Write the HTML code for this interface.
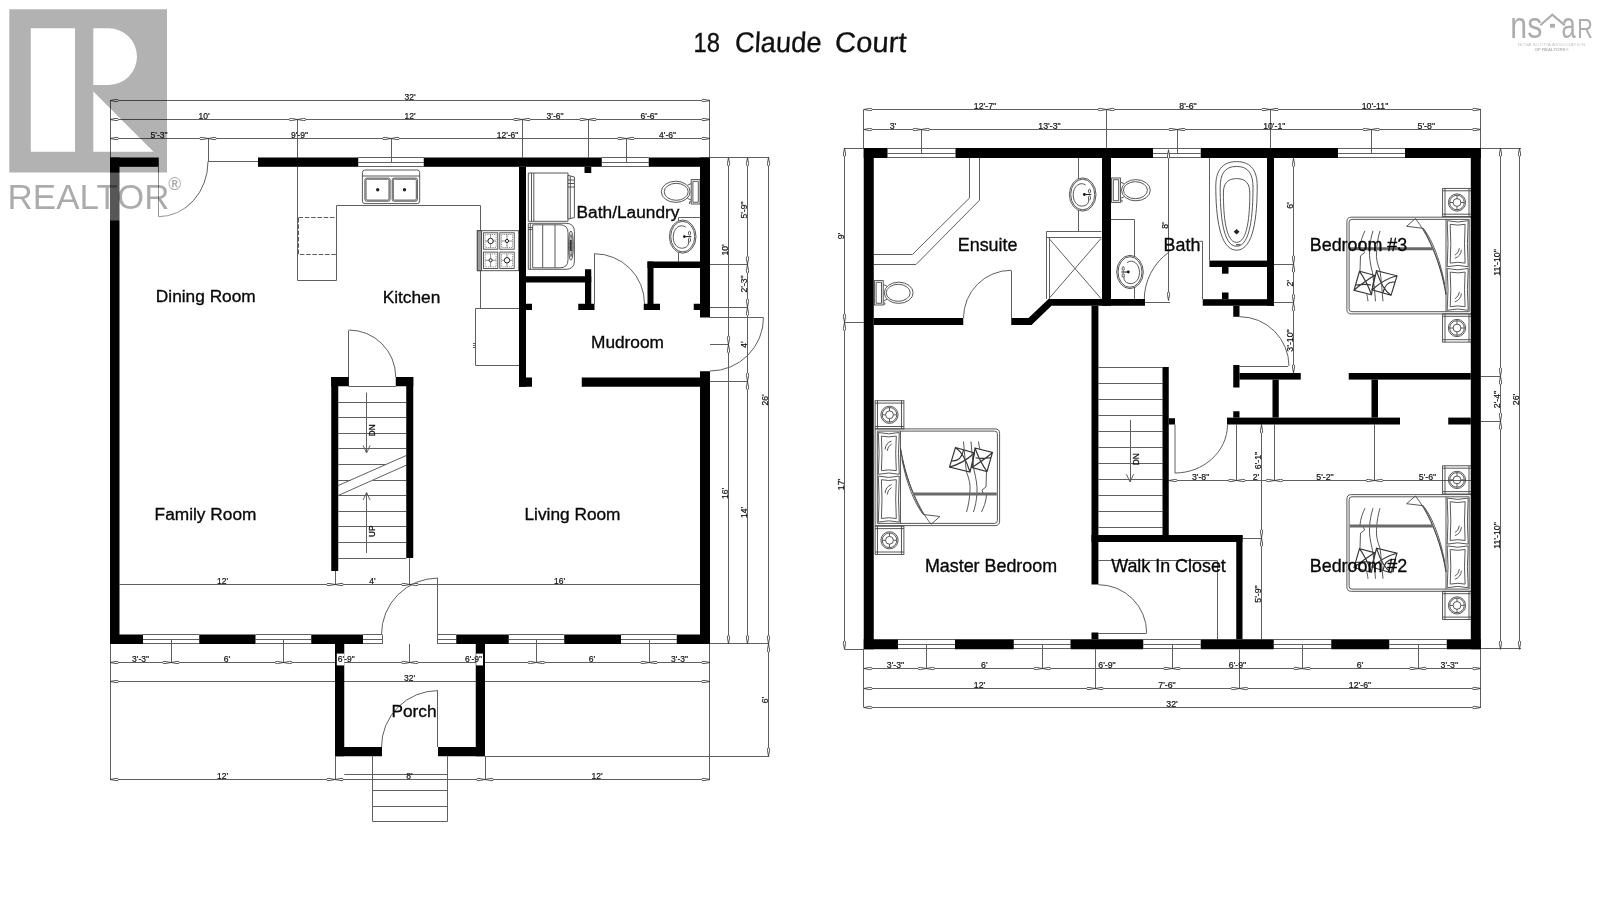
<!DOCTYPE html>
<html><head><meta charset="utf-8"><title>18 Claude Court</title>
<style>
html,body{margin:0;padding:0;background:#fff;}
body{width:1600px;height:900px;overflow:hidden;font-family:"Liberation Sans",sans-serif;}
svg{display:block;opacity:0.999;will-change:transform;}
svg text{font-family:"Liberation Sans",sans-serif;}
</style></head><body>
<svg width="1600" height="900" viewBox="0 0 1600 900">
<defs>
<path id="lf" d="M0 0 L6 -1.1 Q8.6 -1.2 8.6 0 Q8.6 1.2 6 1.1 Z"/>
<g id="bed" fill="none" stroke="#464646" stroke-width="0.9"><rect x="0" y="0" width="28.8" height="28.2"/><path d="M2.4 0 V28.2 M26.4 0 V28.2 M0 2.4 H28.8 M0 25.8 H28.8"/><circle cx="14.4" cy="14.1" r="8.6"/><circle cx="14.4" cy="14.1" r="7.3"/><circle cx="14.4" cy="14.1" r="3.9"/><path d="M14.4 10.2 v-3.4 M14.4 18 v3.4 M10.5 14.1 h-3.4 M18.3 14.1 h3.4"/><rect x="0" y="125.5" width="28.8" height="28.2"/><path d="M2.4 125.5 V153.7 M26.4 125.5 V153.7 M0 127.9 H28.8 M0 151.3 H28.8"/><circle cx="14.4" cy="139.6" r="8.6"/><circle cx="14.4" cy="139.6" r="7.3"/><circle cx="14.4" cy="139.6" r="3.9"/><path d="M14.4 135.7 v-3.4 M14.4 143.5 v3.4 M10.5 139.6 h-3.4 M18.3 139.6 h3.4"/><path d="M0 28.2 H120 Q124.5 28.2 124.5 32.7 V120.4 Q124.5 124.9 120 124.9 H0 Z"/><path d="M2.2 30.4 H119.5 Q122.3 30.4 122.3 33.2 V119.9 Q122.3 122.7 119.5 122.7 H2.2 Z"/><path d="M25.4 30.4 V122.7"/><path d="M3.2 31.8 Q13.5 34.4 24.2 31.8 Q22.6 52.7 24.2 73.6 Q13.5 71 3.2 73.6 Q4.8 52.7 3.2 31.8 Z"/><path d="M6.3 35.4 Q13.5 37 21.2 35.4 Q20 52.7 21.2 70 Q13.5 68.4 6.3 70 Q7.5 52.7 6.3 35.4 Z"/><path d="M10 48.8 Q10.5 42.3 16.5 40.3 M12 50.3 Q12.6 45.3 16.5 43.3"/><path d="M3.2 75.4 Q13.5 78 24.2 75.4 Q22.6 98.4 24.2 121.4 Q13.5 118.8 3.2 121.4 Q4.8 98.4 3.2 75.4 Z"/><path d="M6.3 79 Q13.5 80.6 21.2 79 Q20 98.4 21.2 117.8 Q13.5 116.2 6.3 117.8 Q7.5 98.4 6.3 79 Z"/><path d="M10 92.4 Q10.5 85.9 16.5 83.9 M12 93.9 Q12.6 88.9 16.5 86.9"/><path d="M25.4 47.6 C30 80 45 110 56 123.5 L64.8 115.8 L48.3 113.8 C40 100 30 75 25.4 47.6"/><path d="M26.8 58 C32 86 41 105 48.3 113.8"/><path stroke="#333" stroke-width="1.15" d="M80.4 46.8 L99.4 52.3 L94.9 71.3 L74.4 66.3 Z M80.4 46.8 C88 52 92 62 94.9 71.3 M74.4 66.3 C84 64 93 58 99.4 52.3 M76.6 60 C84 61 87 56 88.5 49.2"/><path stroke="#333" stroke-width="1.15" d="M99.9 47.3 L117.4 51.8 L111.9 70.8 L96.9 66.8 Z M99.9 47.3 C103 56 107 64 111.9 70.8 M96.9 66.8 C104 62 112 57 117.4 51.8 M100.5 57 C105 58.5 112 57.5 115.8 57"/><path d="M88.4 40.8 C89.5 52 90 62 91.4 71.3 C94 78 95.5 84 94.9 90 C94.5 99 93 106 91.4 111.3 M95.9 40.8 C96.5 50 97.5 60 98.9 69.3 C101 78 102.3 85 101.9 92 C101.5 100 100 106 98.4 111.3 M103.4 40.8 C103.8 44 104.3 47 105 49 M111.4 71.3 L110.9 86.3 L106.9 89.3 L107.9 92.3 L111.4 94.3 C111 101 108.5 107 106.4 111.3"/><path d="M38.5 93.4 H121.6" stroke-width="3" stroke="#6a6a6a"/></g><g id="wc" fill="#fff" stroke="#464646" stroke-width="0.9"><path d="M8.8 -8.2 L12.6 -6.6 M8.8 8.2 L12.6 6.6"/><ellipse cx="24.3" cy="0" rx="14.4" ry="10.6"/><ellipse cx="23.8" cy="0" rx="12" ry="8.5"/><rect x="0" y="-12.2" width="8.8" height="24.4"/><path d="M1.7 -10.5 H7.1 V10.5 H1.7 Z M8.8 10 h1.6 v2.2"/></g><g id="sk" fill="#fff" stroke="#464646" stroke-width="0.9"><ellipse cx="0" cy="0" rx="13.3" ry="16.6"/><ellipse cx="0" cy="0" rx="12" ry="15.3"/><path fill="none" d="M3 -9.5 C-3 -13.5 -9.5 -8 -9.5 0.5 C-9.5 9 -3 14 3.5 10.5 C6 9 6.3 6 5.8 3.5"/><circle cx="1.7" cy="0" r="1.4" fill="#111" stroke="none"/><path d="M3 0 H8.6" stroke="#222" stroke-width="1.1"/><ellipse cx="6.8" cy="-3.4" rx="1.1" ry="1.9"/><ellipse cx="6.8" cy="3.4" rx="1.1" ry="1.9"/></g>
</defs>
<rect width="1600" height="900" fill="#fff"/>
<path fill="none" stroke="#606060" stroke-width="1" d="M358.25 157.5 L423.75 157.5 M358.25 162.5 L423.75 162.5 M358.25 166.5 L423.75 166.5 M601.75 157.5 L648.75 157.5 M601.75 162.5 L648.75 162.5 M601.75 166.5 L648.75 166.5 M158.5 166.8 L158.5 216.5 M158.5 216.7 A49.5 55.2 0 0 0 208 161.5 M208 161.5 L258 161.5 M143 634.5 L199.25 634.5 M143 639.5 L199.25 639.5 M143 643.5 L199.25 643.5 M255.5 634.5 L311.25 634.5 M255.5 639.5 L311.25 639.5 M255.5 643.5 L311.25 643.5 M363 634.5 L382 634.5 M363 639.5 L382 639.5 M363 643.5 L382 643.5 M438 634.5 L456.25 634.5 M438 639.5 L456.25 639.5 M438 643.5 L456.25 643.5 M508.75 634.5 L564.25 634.5 M508.75 639.5 L564.25 639.5 M508.75 643.5 L564.25 643.5 M621 634.5 L676.75 634.5 M621 639.5 L676.75 639.5 M621 643.5 L676.75 643.5 M382.5 634.5 L382.5 644 M437.5 578 L437.5 644 M437.9 578.1 A56.4 56.4 0 0 0 381.5 634.5 M348.75 386.5 L395.75 386.5 M348.5 330.5 L348.5 386.25 M348.75 330 A47 47 0 0 1 395.75 377 M338.25 402.5 L406.25 402.5 M338.25 417.5 L406.25 417.5 M338.25 433.5 L406.25 433.5 M338.25 448.5 L406.25 448.5 M338.25 464.5 L386.08 464.5 M338.25 480.5 L350.72 480.5 M373.04 480.5 L406.25 480.5 M338.25 495.5 L406.25 495.5 M338.25 511.5 L406.25 511.5 M338.25 526.5 L406.25 526.5 M338.25 542.5 L406.25 542.5 M338.25 558.5 L406.25 558.5 M338.25 485.5 L406.25 455.5 M338.25 495.5 L406.25 465.2 M366.5 392.5 L366.5 453 M363.1 445.4 L366.6 453 L370.1 445.4 M366.5 492.5 L366.5 553 M363.1 500.1 L366.6 492.5 L370.1 500.1 M119.5 584.5 L700 584.5 M335.5 571 L335.5 584.5 M409.5 558 L409.5 584.5 M297.5 166.8 L297.5 280.5 L336.5 280.5 L336.5 205.5 L480.5 205.5 L480.5 308 M519 308.5 L475.5 308.5 L475.5 365.5 L519 365.5 M473 343.5 L475.75 343.5 M473 345.5 L475.75 345.5 M473 347.5 L475.75 347.5 M594.5 253.5 L594.5 303.75 M594.5 253.75 A50 50 0 0 1 644.5 303.75 M678.5 261.5 L678.5 217.5 L700 217.5 M710 317.5 L763 317.5 M763.5 317.5 A53.5 53.5 0 0 1 710 371 M437.5 690.5 L437.5 747 M437.9 690.6 A56.4 56.4 0 0 0 381.5 747 M372.5 756.25 L372.5 821.5 L447.5 821.5 L447.5 756.25 M344.25 774.5 L447.5 774.5 M372 790.5 L447.5 790.5 M372 806.5 L447.5 806.5 M110.5 100.5 L110.5 157.5 M709.5 100.5 L709.5 157.5 M110 100.5 L710 100.5 M110 119.5 L710 119.5 M297.5 119.5 L297.5 158.5 M522.5 119.5 L522.5 157.5 M588.5 119.5 L588.5 157.5 M110 138.5 L710 138.5 M208.5 138.25 L208.5 161.5 M391.5 138.25 L391.5 162 M626.5 138.25 L626.5 162 M710 157.5 L769.2 157.5 M710 643.5 L769.2 643.5 M485 756.5 L769.2 756.5 M710 264.5 L747.2 264.5 M710 307.5 L747.2 307.5 M710 344.5 L728.4 344.5 M710 381.5 L747.2 381.5 M728.5 157.5 L728.5 643.8 M747.5 157.5 L747.5 643.8 M768.5 157.5 L768.5 756.25 M110.5 644 L110.5 779.5 M709.5 644 L709.5 779.5 M110 662.5 L710 662.5 M171.5 639.2 L171.5 662.5 M283.5 639.2 L283.5 662.5 M409.5 644 L409.5 662.5 M536.5 639.2 L536.5 662.5 M649.5 639.2 L649.5 662.5 M110 681.5 L710 681.5 M110 779.5 L710 779.5 M335.5 756.25 L335.5 779.5 M485.5 756.25 L485.5 779.5 M887.5 148.5 L955.5 148.5 M887.5 153.5 L955.5 153.5 M887.5 157.5 L955.5 157.5 M1153 148.5 L1200.75 148.5 M1153 153.5 L1200.75 153.5 M1153 157.5 L1200.75 157.5 M1338 148.5 L1405 148.5 M1338 153.5 L1405 153.5 M1338 157.5 L1405 157.5 M898 639.5 L955 639.5 M898 644.5 L955 644.5 M898 648.5 L955 648.5 M1013.75 639.5 L1070.5 639.5 M1013.75 644.5 L1070.5 644.5 M1013.75 648.5 L1070.5 648.5 M1143.25 639.5 L1200.75 639.5 M1143.25 644.5 L1200.75 644.5 M1143.25 648.5 L1200.75 648.5 M1273.75 639.5 L1331.25 639.5 M1273.75 644.5 L1331.25 644.5 M1273.75 648.5 L1331.25 648.5 M1389.25 639.5 L1446.75 639.5 M1389.25 644.5 L1446.75 644.5 M1389.25 648.5 L1446.75 648.5 M1011.5 270.5 L1011.5 318 M1011.25 270.25 A47.75 47.75 0 0 0 963.5 318 M1098.4 633.5 L1146.5 633.5 M1146.7 633 A48.3 48.3 0 0 0 1098.4 584.7 M1202.5 241.3 L1202.5 299.2 M1144.25 300 A58.75 58.75 0 0 1 1168.59 252.38 M1199.41 241.36 A58.75 58.75 0 0 1 1202.59 241.25 M1145 302.5 L1170 302.5 M1239.5 366.5 L1288 366.5 M1289 366.2 A49.5 49.5 0 0 0 1239.5 316.7 M1175 424.5 L1175 473 M1175 473 C1203 473 1227.5 452 1227.5 424.5 M1098.4 367.5 L1162.5 367.5 M1098.4 383.5 L1162.5 383.5 M1098.4 399.5 L1162.5 399.5 M1098.4 415.5 L1162.5 415.5 M1098.4 431.5 L1162.5 431.5 M1098.4 447.5 L1162.5 447.5 M1098.4 463.5 L1162.5 463.5 M1098.4 479.5 L1162.5 479.5 M1098.4 495.5 L1162.5 495.5 M1098.4 511.5 L1162.5 511.5 M1098.4 527.5 L1162.5 527.5 M1130.5 420 L1130.5 482 M1126.4 474.2 L1130 482 L1133.6 474.2 M969.5 158 L969.5 198 L912.4 254.5 L873.75 254.5 M979.5 158 L979.5 200.2 L916 264.5 L873.75 264.5 M1078.5 158 L1078.5 231.6 M1046.4 231.5 L1101.5 231.5 M1046.4 237.5 L1101.5 237.5 M1046.5 231.6 L1046.5 298.9 M1049.5 237.8 L1049.5 298.9 M1049 238.5 L1101 298.5 M1101 238.5 L1049 298.5 M1111 219.5 L1134.5 219.5 L1134.5 298.9 M1209.5 158 L1209.5 260.6 M1168.5 149.5 L1168.5 300 M1098.4 560.5 L1217.5 560.5 L1217.5 639.25 M1293.5 158 L1293.5 373 M1274 264.5 L1293.75 264.5 M1274 302.5 L1293.75 302.5 M1168.75 480.5 L1471 480.5 M1236.5 424.5 L1236.5 480.6 M1274.5 424.5 L1274.5 480.6 M1374.5 424.5 L1374.5 480.6 M1261.5 424.5 L1261.5 639.25 M1242.5 538.5 L1261.25 538.5 M863.5 109.7 L863.5 148 M1480.5 109.7 L1480.5 148 M863.75 109.5 L1480.8 109.5 M1106.5 109.7 L1106.5 148 M1270.5 109.7 L1270.5 148 M863.75 129.5 L1480.8 129.5 M921.5 129.3 L921.5 153 M1177.5 129.3 L1177.5 153 M1371.5 129.3 L1371.5 153 M844.6 148.5 L863.75 148.5 M844.6 322.5 L863.75 322.5 M844.6 649.5 L863.75 649.5 M844.5 148 L844.5 649.25 M1480.8 148.5 L1521 148.5 M1480.8 648.5 L1521 648.5 M1480.8 376.5 L1500 376.5 M1480.8 421.5 L1500 421.5 M1500.5 148 L1500.5 649.25 M1519.5 148 L1519.5 649.25 M863.5 649.25 L863.5 707 M1480.5 649.25 L1480.5 707 M863.75 668.5 L1480.8 668.5 M926.5 644.25 L926.5 668.3 M1042.5 644.25 L1042.5 668.3 M1172.5 644.25 L1172.5 668.3 M1302.5 644.25 L1302.5 668.3 M1418.5 644.25 L1418.5 668.3 M863.75 688.5 L1480.8 688.5 M1095.5 649.25 L1095.5 688 M1239.5 649.25 L1239.5 688 M863.75 707.5 L1480.8 707.5"/>
<use href="#bed" transform="translate(875.1 400.7)"/><use href="#bed" transform="translate(1471.4 342.1) rotate(180)"/><use href="#bed" transform="translate(1471.4 619.5) rotate(180)"/><use href="#wc" transform="translate(700 191.8) scale(-1 1)"/><use href="#wc" transform="translate(1111.6 190.2)"/><use href="#wc" transform="translate(874.4 292.8)"/><use href="#sk" transform="translate(682.7 236.6)"/><use href="#sk" transform="translate(1082.7 194.5)"/><use href="#sk" transform="translate(1130 272) scale(-1 1)"/><g fill="#fff" stroke="#464646" stroke-width="0.9"><rect x="362.4" y="170" width="57.3" height="33.6" rx="2.5"/><path d="M362.4 176 H419.7"/><rect x="364.9" y="178.1" width="25.2" height="23.1" rx="1.8"/><rect x="366" y="179.2" width="23" height="20.9" rx="1.2"/><rect x="392.2" y="178.1" width="25.2" height="23.1" rx="1.8"/><rect x="393.3" y="179.2" width="23" height="20.9" rx="1.2"/><circle cx="377.7" cy="189.7" r="1.7" fill="#222" stroke="none"/><circle cx="404.5" cy="189.7" r="1.7" fill="#222" stroke="none"/></g><rect x="298.5" y="217.5" width="38" height="37" fill="none" stroke="#5f5f5f" stroke-width="1" stroke-dasharray="4.6 1.7"/><g fill="#fff" stroke="#444" stroke-width="0.9"><rect x="477.3" y="230.7" width="41.4" height="40"/><rect x="477.3" y="230.7" width="4.2" height="40" fill="#9a9a9a"/><rect x="483.4" y="232.8" width="14.4" height="16.4"/><rect x="485.1" y="234.5" width="11" height="13" stroke-width="0.6" stroke-dasharray="1.2 1"/><path d="M485.1 241 H496.1 M490.6 234.5 V247.5" stroke-width="0.6"/><circle cx="490.6" cy="241" r="2.7" stroke="#222" stroke-width="1"/><rect x="499.8" y="232.8" width="14.4" height="16.4"/><rect x="501.5" y="234.5" width="11" height="13" stroke-width="0.6" stroke-dasharray="1.2 1"/><path d="M501.5 241 H512.5 M507 234.5 V247.5" stroke-width="0.6"/><circle cx="507" cy="241" r="1.6" stroke="#222" stroke-width="1"/><rect x="483.4" y="252.1" width="14.4" height="16.4"/><rect x="485.1" y="253.8" width="11" height="13" stroke-width="0.6" stroke-dasharray="1.2 1"/><path d="M485.1 260.3 H496.1 M490.6 253.8 V266.8" stroke-width="0.6"/><circle cx="490.6" cy="260.3" r="1.6" stroke="#222" stroke-width="1"/><rect x="499.8" y="252.1" width="14.4" height="16.4"/><rect x="501.5" y="253.8" width="11" height="13" stroke-width="0.6" stroke-dasharray="1.2 1"/><path d="M501.5 260.3 H512.5 M507 253.8 V266.8" stroke-width="0.6"/><circle cx="507" cy="260.3" r="2.7" stroke="#222" stroke-width="1"/></g><g fill="#fff" stroke="#464646" stroke-width="0.9"><path d="M528.3 173 H568 V221.3 H528.3 Z M533.8 173 V221.3 M531.5 173 V221.3"/><path d="M568 175.3 L574.4 177 V217.6 L568 219 Z M570.3 176 V218.3 M568 187 H574.4 M568 180 H574.4 M568 183.5 H574.4"/><path d="M528.3 223.3 H566 Q574.4 223.3 574.4 231.7 V260.9 Q574.4 269.3 566 269.3 H528.3 Z"/><path d="M532.7 224.8 H560 Q568 224.8 568 232.8 V259.8 Q568 267.8 560 267.8 H532.7 Z"/><path d="M530.3 223.3 V269.3 M542.7 224.8 V267.8 M555 224.8 V267.8 M528.3 227.5 H532.7 M528.3 229.5 H532.7"/><ellipse cx="570.9" cy="245.6" rx="2.4" ry="14.6"/><ellipse cx="570.9" cy="245.6" rx="1.3" ry="11" /><path d="M570.9 240 V251" stroke="#222" stroke-width="1.6"/></g><g fill="none" stroke="#464646" stroke-width="0.9"><path d="M1236.6 161.6 C1252 161.6 1257.2 172 1257.2 186 C1257.2 215 1254 250.2 1236.6 250.2 C1219.2 250.2 1215.8 215 1215.8 186 C1215.8 172 1221.2 161.6 1236.6 161.6 Z"/><path d="M1236.6 166.4 C1249 166.4 1253 175 1253 187 C1253 214 1250.5 246.3 1236.6 246.3 C1222.7 246.3 1220.2 214 1220.2 187 C1220.2 175 1224.2 166.4 1236.6 166.4 Z"/><path d="M1236.6 178.6 C1246.5 178.6 1249.8 184.5 1249.8 193 C1249.8 216 1247.5 242.4 1236.6 242.4 C1225.7 242.4 1223.4 216 1223.4 193 C1223.4 184.5 1226.7 178.6 1236.6 178.6 Z"/><path d="M1236.6 229 L1239.5 231.8 L1236.6 234.6 L1233.7 231.8 Z" fill="#222" stroke="none"/><path d="M1236 244.8 H1240.5" stroke-width="1.2"/></g>
<g fill="#fff" stroke="#3c3c3c" stroke-width="0.85" stroke-linejoin="round"><use href="#lf" transform="translate(335 584.5) rotate(0)"/><use href="#lf" transform="translate(335 584.5) rotate(180)"/><use href="#lf" transform="translate(409.9 584.5) rotate(0)"/><use href="#lf" transform="translate(409.9 584.5) rotate(180)"/><use href="#lf" transform="translate(110 100.5) rotate(0)"/><use href="#lf" transform="translate(710 100.5) rotate(180)"/><use href="#lf" transform="translate(110 119.5) rotate(0)"/><use href="#lf" transform="translate(297.5 119.5) rotate(0)"/><use href="#lf" transform="translate(297.5 119.5) rotate(180)"/><use href="#lf" transform="translate(522 119.5) rotate(0)"/><use href="#lf" transform="translate(522 119.5) rotate(180)"/><use href="#lf" transform="translate(588 119.5) rotate(0)"/><use href="#lf" transform="translate(588 119.5) rotate(180)"/><use href="#lf" transform="translate(710 119.5) rotate(180)"/><use href="#lf" transform="translate(110 138.5) rotate(0)"/><use href="#lf" transform="translate(208 138.5) rotate(0)"/><use href="#lf" transform="translate(208 138.5) rotate(180)"/><use href="#lf" transform="translate(391 138.5) rotate(0)"/><use href="#lf" transform="translate(391 138.5) rotate(180)"/><use href="#lf" transform="translate(626 138.5) rotate(0)"/><use href="#lf" transform="translate(626 138.5) rotate(180)"/><use href="#lf" transform="translate(710 138.5) rotate(180)"/><use href="#lf" transform="translate(728.5 157.5) rotate(90)"/><use href="#lf" transform="translate(728.5 344.5) rotate(90)"/><use href="#lf" transform="translate(728.5 344.5) rotate(270)"/><use href="#lf" transform="translate(728.5 643.8) rotate(270)"/><use href="#lf" transform="translate(747.5 157.5) rotate(90)"/><use href="#lf" transform="translate(747.5 264.7) rotate(90)"/><use href="#lf" transform="translate(747.5 264.7) rotate(270)"/><use href="#lf" transform="translate(747.5 307.3) rotate(90)"/><use href="#lf" transform="translate(747.5 307.3) rotate(270)"/><use href="#lf" transform="translate(747.5 381.3) rotate(90)"/><use href="#lf" transform="translate(747.5 381.3) rotate(270)"/><use href="#lf" transform="translate(747.5 643.8) rotate(270)"/><use href="#lf" transform="translate(768.5 157.5) rotate(90)"/><use href="#lf" transform="translate(768.5 643.8) rotate(90)"/><use href="#lf" transform="translate(768.5 643.8) rotate(270)"/><use href="#lf" transform="translate(768.5 756.25) rotate(270)"/><use href="#lf" transform="translate(110 662.5) rotate(0)"/><use href="#lf" transform="translate(710 662.5) rotate(180)"/><use href="#lf" transform="translate(171 662.5) rotate(0)"/><use href="#lf" transform="translate(171 662.5) rotate(180)"/><use href="#lf" transform="translate(283.6 662.5) rotate(0)"/><use href="#lf" transform="translate(283.6 662.5) rotate(180)"/><use href="#lf" transform="translate(409.8 662.5) rotate(0)"/><use href="#lf" transform="translate(409.8 662.5) rotate(180)"/><use href="#lf" transform="translate(536.4 662.5) rotate(0)"/><use href="#lf" transform="translate(536.4 662.5) rotate(180)"/><use href="#lf" transform="translate(649 662.5) rotate(0)"/><use href="#lf" transform="translate(649 662.5) rotate(180)"/><use href="#lf" transform="translate(110 681.5) rotate(0)"/><use href="#lf" transform="translate(710 681.5) rotate(180)"/><use href="#lf" transform="translate(110 779.5) rotate(0)"/><use href="#lf" transform="translate(335 779.5) rotate(0)"/><use href="#lf" transform="translate(335 779.5) rotate(180)"/><use href="#lf" transform="translate(485 779.5) rotate(0)"/><use href="#lf" transform="translate(485 779.5) rotate(180)"/><use href="#lf" transform="translate(710 779.5) rotate(180)"/><use href="#lf" transform="translate(1168.5 150) rotate(90)"/><use href="#lf" transform="translate(1168.5 300.5) rotate(270)"/><use href="#lf" transform="translate(1293.5 158.3) rotate(90)"/><use href="#lf" transform="translate(1293.5 264) rotate(90)"/><use href="#lf" transform="translate(1293.5 264) rotate(270)"/><use href="#lf" transform="translate(1293.5 302.6) rotate(90)"/><use href="#lf" transform="translate(1293.5 302.6) rotate(270)"/><use href="#lf" transform="translate(1293.5 373) rotate(270)"/><use href="#lf" transform="translate(1168.75 480.5) rotate(0)"/><use href="#lf" transform="translate(1236.75 480.5) rotate(0)"/><use href="#lf" transform="translate(1236.75 480.5) rotate(180)"/><use href="#lf" transform="translate(1274.5 480.5) rotate(0)"/><use href="#lf" transform="translate(1274.5 480.5) rotate(180)"/><use href="#lf" transform="translate(1374.5 480.5) rotate(0)"/><use href="#lf" transform="translate(1374.5 480.5) rotate(180)"/><use href="#lf" transform="translate(1261.5 424.8) rotate(90)"/><use href="#lf" transform="translate(1261.5 538) rotate(90)"/><use href="#lf" transform="translate(1261.5 538) rotate(270)"/><use href="#lf" transform="translate(863.75 109.5) rotate(0)"/><use href="#lf" transform="translate(1106.25 109.5) rotate(0)"/><use href="#lf" transform="translate(1106.25 109.5) rotate(180)"/><use href="#lf" transform="translate(1270 109.5) rotate(0)"/><use href="#lf" transform="translate(1270 109.5) rotate(180)"/><use href="#lf" transform="translate(1480.8 109.5) rotate(180)"/><use href="#lf" transform="translate(863.75 129.5) rotate(0)"/><use href="#lf" transform="translate(921.25 129.5) rotate(0)"/><use href="#lf" transform="translate(921.25 129.5) rotate(180)"/><use href="#lf" transform="translate(1177 129.5) rotate(0)"/><use href="#lf" transform="translate(1177 129.5) rotate(180)"/><use href="#lf" transform="translate(1371.25 129.5) rotate(0)"/><use href="#lf" transform="translate(1371.25 129.5) rotate(180)"/><use href="#lf" transform="translate(1480.8 129.5) rotate(180)"/><use href="#lf" transform="translate(844.5 148) rotate(90)"/><use href="#lf" transform="translate(844.5 322.3) rotate(90)"/><use href="#lf" transform="translate(844.5 322.3) rotate(270)"/><use href="#lf" transform="translate(844.5 649.25) rotate(270)"/><use href="#lf" transform="translate(1500.5 148) rotate(90)"/><use href="#lf" transform="translate(1500.5 376.2) rotate(90)"/><use href="#lf" transform="translate(1500.5 376.2) rotate(270)"/><use href="#lf" transform="translate(1500.5 421.2) rotate(90)"/><use href="#lf" transform="translate(1500.5 421.2) rotate(270)"/><use href="#lf" transform="translate(1500.5 649.25) rotate(270)"/><use href="#lf" transform="translate(1519.5 148) rotate(90)"/><use href="#lf" transform="translate(1519.5 649.25) rotate(270)"/><use href="#lf" transform="translate(863.75 668.5) rotate(0)"/><use href="#lf" transform="translate(1480.8 668.5) rotate(180)"/><use href="#lf" transform="translate(926.3 668.5) rotate(0)"/><use href="#lf" transform="translate(926.3 668.5) rotate(180)"/><use href="#lf" transform="translate(1042.3 668.5) rotate(0)"/><use href="#lf" transform="translate(1042.3 668.5) rotate(180)"/><use href="#lf" transform="translate(1172 668.5) rotate(0)"/><use href="#lf" transform="translate(1172 668.5) rotate(180)"/><use href="#lf" transform="translate(1302 668.5) rotate(0)"/><use href="#lf" transform="translate(1302 668.5) rotate(180)"/><use href="#lf" transform="translate(1418 668.5) rotate(0)"/><use href="#lf" transform="translate(1418 668.5) rotate(180)"/><use href="#lf" transform="translate(863.75 688.5) rotate(0)"/><use href="#lf" transform="translate(1095 688.5) rotate(0)"/><use href="#lf" transform="translate(1095 688.5) rotate(180)"/><use href="#lf" transform="translate(1239.5 688.5) rotate(0)"/><use href="#lf" transform="translate(1239.5 688.5) rotate(180)"/><use href="#lf" transform="translate(1480.8 688.5) rotate(180)"/><use href="#lf" transform="translate(863.75 707.5) rotate(0)"/><use href="#lf" transform="translate(1480.8 707.5) rotate(180)"/></g>
<g fill="#000">
<rect x="110" y="157.5" width="9.5" height="486.5"/>
<rect x="700" y="157.5" width="10" height="160"/>
<rect x="700" y="371.25" width="10" height="272.75"/>
<rect x="110" y="157.5" width="48.75" height="9.3"/>
<rect x="258" y="157.5" width="100.25" height="9.3"/>
<rect x="423.75" y="157.5" width="178" height="9.3"/>
<rect x="648.75" y="157.5" width="61.25" height="9.3"/>
<rect x="110" y="634.5" width="33" height="9.5"/>
<rect x="199.25" y="634.5" width="56.25" height="9.5"/>
<rect x="311.25" y="634.5" width="51.75" height="9.5"/>
<rect x="456.25" y="634.5" width="52.5" height="9.5"/>
<rect x="564.25" y="634.5" width="56.75" height="9.5"/>
<rect x="676.75" y="634.5" width="33.25" height="9.5"/>
<rect x="331.25" y="377" width="7" height="194"/>
<rect x="406.25" y="377" width="7" height="181"/>
<rect x="331.25" y="377" width="17.5" height="9.25"/>
<rect x="395.75" y="377" width="17.5" height="9.25"/>
<rect x="519" y="166.8" width="7" height="219.95"/>
<rect x="519" y="377.5" width="13" height="9.25"/>
<rect x="584.5" y="166.8" width="6.75" height="6.2"/>
<rect x="526" y="276.25" width="65.25" height="6.25"/>
<rect x="585" y="269.25" width="6.25" height="40.75"/>
<rect x="578.25" y="303.75" width="16.25" height="6.25"/>
<rect x="526" y="303.75" width="6" height="6.25"/>
<rect x="647.5" y="261.5" width="52.5" height="6.5"/>
<rect x="647.5" y="261.5" width="6" height="48.5"/>
<rect x="643.75" y="303.75" width="16.25" height="6.25"/>
<rect x="693.75" y="303.75" width="6.25" height="6.25"/>
<rect x="581.75" y="377.5" width="118.25" height="9.25"/>
<rect x="335" y="644" width="9.25" height="112.25"/>
<rect x="335" y="747" width="47" height="9.25"/>
<rect x="438" y="747" width="47" height="9.25"/>
<rect x="475.75" y="644" width="9.25" height="112.25"/>
<rect x="863.75" y="148" width="10" height="501.25"/>
<rect x="1470.8" y="148" width="10" height="501.25"/>
<rect x="863.75" y="148" width="23.75" height="10"/>
<rect x="955.5" y="148" width="197.5" height="10"/>
<rect x="1200.75" y="148" width="137.25" height="10"/>
<rect x="1405" y="148" width="75.8" height="10"/>
<rect x="863.75" y="639.25" width="34.25" height="10"/>
<rect x="955" y="639.25" width="58.75" height="10"/>
<rect x="1070.5" y="639.25" width="72.75" height="10"/>
<rect x="1200.75" y="639.25" width="73" height="10"/>
<rect x="1331.25" y="639.25" width="58" height="10"/>
<rect x="1446.75" y="639.25" width="34.05" height="10"/>
<rect x="1102" y="158" width="9" height="147.75"/>
<rect x="873.75" y="318" width="89.5" height="7"/>
<rect x="1091.5" y="305.75" width="6.9" height="278.75"/>
<rect x="1091.5" y="632.5" width="6.9" height="6.75"/>
<rect x="1091.5" y="535" width="151" height="7"/>
<rect x="1236.25" y="535" width="6.25" height="104.25"/>
<rect x="1162.5" y="367" width="6.25" height="168"/>
<rect x="1168.75" y="418.25" width="6.25" height="6.25"/>
<rect x="1267" y="158" width="7" height="147.75"/>
<rect x="1209.4" y="260.6" width="57.6" height="6.4"/>
<rect x="1222" y="267" width="6.5" height="6.7"/>
<rect x="1222" y="292.5" width="6.5" height="6.7"/>
<rect x="1202.75" y="299.2" width="71.25" height="6.55"/>
<rect x="1233.25" y="305.75" width="6.25" height="11.05"/>
<rect x="1233.25" y="365" width="6.25" height="22.5"/>
<rect x="1239.5" y="373" width="61.25" height="6.6"/>
<rect x="1272.5" y="379.6" width="6.25" height="38"/>
<rect x="1227" y="417.6" width="173" height="6.9"/>
<rect x="1233.25" y="411.25" width="6.25" height="6.35"/>
<rect x="1348.75" y="373" width="122.05" height="6.6"/>
<rect x="1371.5" y="379.6" width="6.5" height="38"/>
<rect x="1448.25" y="417.6" width="22.55" height="6.9"/>
<path d="M1011.25 318 L1028.5 318 L1048.5 298.9 L1145 298.9 L1145 305.75 L1051.5 305.75 L1031.5 325 L1011.25 325 Z"/>
</g>
<g fill="#fff" stroke="none"><rect x="336.8" y="653.6" width="7.5" height="11.8"/><rect x="476.2" y="653.6" width="6.8" height="11.8"/></g>
<g font-family="'Liberation Sans', sans-serif" fill="#0a0a0a"><text x="375.3" y="430.2" font-size="8.2" text-anchor="middle" transform="rotate(-90 375.3 430.2)" stroke="#111" stroke-width="0.3">DN</text><text x="375.3" y="531.3" font-size="8.2" text-anchor="middle" transform="rotate(-90 375.3 531.3)" stroke="#111" stroke-width="0.3">UP</text><text x="222.5" y="584.15" font-size="8.5" text-anchor="middle" stroke="#222" stroke-width="0.2">12'</text><text x="372.5" y="584.15" font-size="8.5" text-anchor="middle" stroke="#222" stroke-width="0.2">4'</text><text x="559.5" y="584.15" font-size="8.5" text-anchor="middle" stroke="#222" stroke-width="0.2">16'</text><text x="410" y="100.15" font-size="8.5" text-anchor="middle" stroke="#222" stroke-width="0.2">32'</text><text x="204" y="119.15" font-size="8.5" text-anchor="middle" stroke="#222" stroke-width="0.2">10'</text><text x="410" y="119.15" font-size="8.5" text-anchor="middle" stroke="#222" stroke-width="0.2">12'</text><text x="555" y="119.15" font-size="8.5" text-anchor="middle" stroke="#222" stroke-width="0.2">3'-6&quot;</text><text x="649" y="119.15" font-size="8.5" text-anchor="middle" stroke="#222" stroke-width="0.2">6'-6&quot;</text><text x="159" y="137.95" font-size="8.5" text-anchor="middle" stroke="#222" stroke-width="0.2">5'-3&quot;</text><text x="299.5" y="137.95" font-size="8.5" text-anchor="middle" stroke="#222" stroke-width="0.2">9'-9&quot;</text><text x="507.5" y="137.95" font-size="8.5" text-anchor="middle" stroke="#222" stroke-width="0.2">12'-6&quot;</text><text x="667.5" y="137.95" font-size="8.5" text-anchor="middle" stroke="#222" stroke-width="0.2">4'-6&quot;</text><text x="728.05" y="250" font-size="8.5" text-anchor="middle" transform="rotate(-90 728.05 250)" stroke="#222" stroke-width="0.2">10'</text><text x="728.05" y="493.5" font-size="8.5" text-anchor="middle" transform="rotate(-90 728.05 493.5)" stroke="#222" stroke-width="0.2">16'</text><text x="747.05" y="210" font-size="8.5" text-anchor="middle" transform="rotate(-90 747.05 210)" stroke="#222" stroke-width="0.2">5'-9&quot;</text><text x="747.05" y="284" font-size="8.5" text-anchor="middle" transform="rotate(-90 747.05 284)" stroke="#222" stroke-width="0.2">2'-3&quot;</text><text x="747.05" y="344.5" font-size="8.5" text-anchor="middle" transform="rotate(-90 747.05 344.5)" stroke="#222" stroke-width="0.2">4'</text><text x="747.05" y="512.5" font-size="8.5" text-anchor="middle" transform="rotate(-90 747.05 512.5)" stroke="#222" stroke-width="0.2">14'</text><text x="768.25" y="400" font-size="8.5" text-anchor="middle" transform="rotate(-90 768.25 400)" stroke="#222" stroke-width="0.2">26'</text><text x="768.25" y="700" font-size="8.5" text-anchor="middle" transform="rotate(-90 768.25 700)" stroke="#222" stroke-width="0.2">6'</text><text x="140.5" y="662.15" font-size="8.5" text-anchor="middle" stroke="#222" stroke-width="0.2">3'-3&quot;</text><text x="227" y="662.15" font-size="8.5" text-anchor="middle" stroke="#222" stroke-width="0.2">6'</text><text x="346.3" y="662.15" font-size="8.5" text-anchor="middle" stroke="#222" stroke-width="0.2">6'-9&quot;</text><text x="473.5" y="662.15" font-size="8.5" text-anchor="middle" stroke="#222" stroke-width="0.2">6'-9&quot;</text><text x="592" y="662.15" font-size="8.5" text-anchor="middle" stroke="#222" stroke-width="0.2">6'</text><text x="679.5" y="662.15" font-size="8.5" text-anchor="middle" stroke="#222" stroke-width="0.2">3'-3&quot;</text><text x="409.5" y="680.95" font-size="8.5" text-anchor="middle" stroke="#222" stroke-width="0.2">32'</text><text x="222.5" y="779.15" font-size="8.5" text-anchor="middle" stroke="#222" stroke-width="0.2">12'</text><text x="409.5" y="779.15" font-size="8.5" text-anchor="middle" stroke="#222" stroke-width="0.2">8'</text><text x="597" y="779.15" font-size="8.5" text-anchor="middle" stroke="#222" stroke-width="0.2">12'</text><text x="205.8" y="302" font-size="17.3" text-anchor="middle" stroke="#000" stroke-width="0.32">Dining Room</text><text x="411.5" y="303" font-size="17.3" text-anchor="middle" stroke="#000" stroke-width="0.32">Kitchen</text><text x="628" y="218" font-size="17.3" text-anchor="middle" stroke="#000" stroke-width="0.32">Bath/Laundry</text><text x="627.5" y="347.5" font-size="17.3" text-anchor="middle" stroke="#000" stroke-width="0.32">Mudroom</text><text x="205.5" y="520" font-size="17.3" text-anchor="middle" stroke="#000" stroke-width="0.32">Family Room</text><text x="572.5" y="520" font-size="17.3" text-anchor="middle" stroke="#000" stroke-width="0.32">Living Room</text><text x="414" y="716.5" font-size="17.3" text-anchor="middle" stroke="#000" stroke-width="0.32">Porch</text><text x="1139.4" y="459.2" font-size="8.4" text-anchor="middle" transform="rotate(-90 1139.4 459.2)" stroke="#111" stroke-width="0.3">DN</text><text x="1168.15" y="225.5" font-size="8.75" text-anchor="middle" transform="rotate(-90 1168.15 225.5)" stroke="#222" stroke-width="0.2">8'</text><text x="1293.4" y="205.5" font-size="8.75" text-anchor="middle" transform="rotate(-90 1293.4 205.5)" stroke="#222" stroke-width="0.2">6'</text><text x="1293.4" y="283.3" font-size="8.75" text-anchor="middle" transform="rotate(-90 1293.4 283.3)" stroke="#222" stroke-width="0.2">2'</text><text x="1293.4" y="340.5" font-size="8.75" text-anchor="middle" transform="rotate(-90 1293.4 340.5)" stroke="#222" stroke-width="0.2">3'-10&quot;</text><text x="1200.6" y="480.25" font-size="8.75" text-anchor="middle" stroke="#222" stroke-width="0.2">3'-8&quot;</text><text x="1256" y="480.25" font-size="8.75" text-anchor="middle" stroke="#222" stroke-width="0.2">2'</text><text x="1325" y="480.25" font-size="8.75" text-anchor="middle" stroke="#222" stroke-width="0.2">5'-2&quot;</text><text x="1427.5" y="480.25" font-size="8.75" text-anchor="middle" stroke="#222" stroke-width="0.2">5'-6&quot;</text><text x="1260.9" y="460.5" font-size="8.75" text-anchor="middle" transform="rotate(-90 1260.9 460.5)" stroke="#222" stroke-width="0.2">6'-1&quot;</text><text x="1260.9" y="594" font-size="8.75" text-anchor="middle" transform="rotate(-90 1260.9 594)" stroke="#222" stroke-width="0.2">5'-9&quot;</text><text x="985" y="109.15" font-size="8.75" text-anchor="middle" stroke="#222" stroke-width="0.2">12'-7&quot;</text><text x="1188" y="109.15" font-size="8.75" text-anchor="middle" stroke="#222" stroke-width="0.2">8'-6&quot;</text><text x="1375" y="109.15" font-size="8.75" text-anchor="middle" stroke="#222" stroke-width="0.2">10'-11&quot;</text><text x="893" y="128.95" font-size="8.75" text-anchor="middle" stroke="#222" stroke-width="0.2">3'</text><text x="1049.5" y="128.95" font-size="8.75" text-anchor="middle" stroke="#222" stroke-width="0.2">13'-3&quot;</text><text x="1274.3" y="128.95" font-size="8.75" text-anchor="middle" stroke="#222" stroke-width="0.2">10'-1&quot;</text><text x="1426.3" y="128.95" font-size="8.75" text-anchor="middle" stroke="#222" stroke-width="0.2">5'-8&quot;</text><text x="844.25" y="236" font-size="8.75" text-anchor="middle" transform="rotate(-90 844.25 236)" stroke="#222" stroke-width="0.2">9'</text><text x="844.25" y="484.5" font-size="8.75" text-anchor="middle" transform="rotate(-90 844.25 484.5)" stroke="#222" stroke-width="0.2">17'</text><text x="1499.65" y="262.5" font-size="8.75" text-anchor="middle" transform="rotate(-90 1499.65 262.5)" stroke="#222" stroke-width="0.2">11'-10&quot;</text><text x="1499.65" y="399.5" font-size="8.75" text-anchor="middle" transform="rotate(-90 1499.65 399.5)" stroke="#222" stroke-width="0.2">2'-4&quot;</text><text x="1499.65" y="535.5" font-size="8.75" text-anchor="middle" transform="rotate(-90 1499.65 535.5)" stroke="#222" stroke-width="0.2">11'-10&quot;</text><text x="1519.25" y="399.5" font-size="8.75" text-anchor="middle" transform="rotate(-90 1519.25 399.5)" stroke="#222" stroke-width="0.2">26'</text><text x="895.5" y="667.95" font-size="8.75" text-anchor="middle" stroke="#222" stroke-width="0.2">3'-3&quot;</text><text x="984.3" y="667.95" font-size="8.75" text-anchor="middle" stroke="#222" stroke-width="0.2">6'</text><text x="1107" y="667.95" font-size="8.75" text-anchor="middle" stroke="#222" stroke-width="0.2">6'-9&quot;</text><text x="1237.5" y="667.95" font-size="8.75" text-anchor="middle" stroke="#222" stroke-width="0.2">6'-9&quot;</text><text x="1360" y="667.95" font-size="8.75" text-anchor="middle" stroke="#222" stroke-width="0.2">6'</text><text x="1449.3" y="667.95" font-size="8.75" text-anchor="middle" stroke="#222" stroke-width="0.2">3'-3&quot;</text><text x="979.5" y="687.65" font-size="8.75" text-anchor="middle" stroke="#222" stroke-width="0.2">12'</text><text x="1167" y="687.65" font-size="8.75" text-anchor="middle" stroke="#222" stroke-width="0.2">7'-6&quot;</text><text x="1360" y="687.65" font-size="8.75" text-anchor="middle" stroke="#222" stroke-width="0.2">12'-6&quot;</text><text x="1172" y="706.65" font-size="8.75" text-anchor="middle" stroke="#222" stroke-width="0.2">32'</text><text x="987.6" y="250.6" font-size="17.9" text-anchor="middle" stroke="#000" stroke-width="0.32">Ensuite</text><text x="1182" y="250.6" font-size="17.9" text-anchor="middle" stroke="#000" stroke-width="0.32">Bath</text><text x="1358.5" y="250.6" font-size="17.9" text-anchor="middle" stroke="#000" stroke-width="0.32">Bedroom #3</text><text x="991" y="571.5" font-size="17.9" text-anchor="middle" stroke="#000" stroke-width="0.32">Master Bedroom</text><text x="1168.5" y="571.5" font-size="17.9" text-anchor="middle" stroke="#000" stroke-width="0.32">Walk In Closet</text><text x="1358.5" y="571.5" font-size="17.9" text-anchor="middle" stroke="#000" stroke-width="0.32">Bedroom #2</text><text x="693.6" y="52.2" font-size="28.5" text-anchor="start" textLength="26.5" lengthAdjust="spacingAndGlyphs" fill="#111" stroke="#000" stroke-width="0.3">18</text><text x="734.6" y="52.2" font-size="28.5" text-anchor="start" textLength="86.5" lengthAdjust="spacingAndGlyphs" fill="#111" transform="translate(0 0) skewX(-3) translate(2.74 0)" stroke="#000" stroke-width="0.3">Claude</text><text x="834.6" y="52.2" font-size="28.5" text-anchor="start" textLength="71.5" lengthAdjust="spacingAndGlyphs" fill="#111" transform="skewX(-3) translate(2.74 0)" stroke="#000" stroke-width="0.3">Court</text></g>
<rect x="9.3" y="172.5" width="176" height="48" fill="#fff" fill-opacity="0.34"/><g fill="#000" fill-opacity="0.3"><path fill-rule="evenodd" d="M9.3 9.3 H167 V172.5 H9.3 Z M30.8 28.3 V151.8 H75 V28.3 Z M93.3 28.3 V85 H108.6 A28.35 28.35 0 0 0 108.6 28.3 Z M93.3 91.5 V151.8 H153.5 Z"/></g><g fill="#000" fill-opacity="0.33"><text x="7.6" y="209.4" font-family="'Liberation Sans', sans-serif" font-size="35" textLength="162" lengthAdjust="spacingAndGlyphs">REALTOR</text><text x="168.3" y="190.3" font-family="'Liberation Sans', sans-serif" font-size="17.5" font-weight="bold">&#174;</text></g><g fill="#adadad" font-family="'Liberation Sans', sans-serif"><text x="1510.3" y="37.7" font-size="37.5" textLength="32" lengthAdjust="spacingAndGlyphs">ns</text><text x="1561.6" y="37.7" font-size="37.5" textLength="14.2" lengthAdjust="spacingAndGlyphs">a</text><text x="1577.2" y="37.7" font-size="28" textLength="15.6" lengthAdjust="spacingAndGlyphs">R</text><path d="M1540.3 25.3 L1552.3 14.6 L1564.8 25.3" fill="none" stroke="#adadad" stroke-width="2.2"/><rect x="1550" y="23.8" width="4.9" height="3.9"/><text x="1551.5" y="45.8" font-size="3.6" text-anchor="middle" textLength="67.5" lengthAdjust="spacingAndGlyphs" fill="#c6c6c6">NOVA SCOTIA ASSOCIATION</text><text x="1551.7" y="50.5" font-size="3.6" text-anchor="middle" textLength="34" lengthAdjust="spacingAndGlyphs" fill="#b6b6b6" font-weight="bold">OF REALTORS&#174;</text></g>
</svg>
</body></html>
